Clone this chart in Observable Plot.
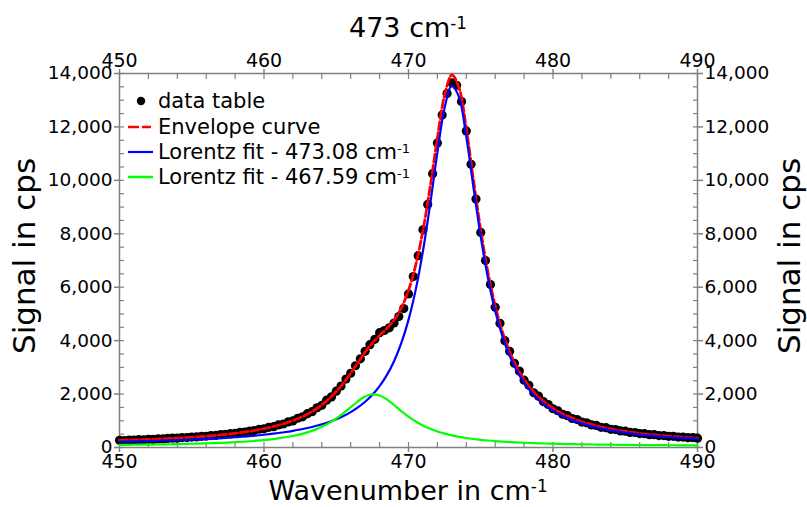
<!DOCTYPE html>
<html>
<head>
<meta charset="utf-8">
<script src="https://cdn.jsdelivr.net/npm/d3@7"></script>
<script src="https://cdn.jsdelivr.net/npm/@observablehq/plot@0.6"></script>
<style>
  html, body { margin: 0; padding: 0; background: #fff; }
  svg { display: block; }
</style>
</head>
<body>
<div id="chart"></div>
<script>
// ---------- data ----------
const titleText = "473 cm";
const xLabel = "Wavenumber in cm";
const yLabel = "Signal in cps";
const seriesNames = ["data table", "Envelope curve", "Lorentz fit - 473.08 cm", "Lorentz fit - 467.59 cm"];
const seriesColors = ["#000000", "#ff0000", "#0000ff", "#00ff00"];

const xTickLabels = [450, 460, 470, 480, 490];
const yTickLabels = [0, 2000, 4000, 6000, 8000, 10000, 12000, 14000];

// measured points (data table)
const dataX = [450.00,450.33,450.67,451.00,451.33,451.67,452.00,452.33,452.67,453.00,453.33,453.67,
  454.00,454.33,454.67,455.00,455.33,455.67,456.00,456.33,456.67,457.00,457.33,457.67,
  458.00,458.33,458.67,459.00,459.33,459.67,460.00,460.33,460.67,461.00,461.33,461.67,
  462.00,462.33,462.67,463.00,463.33,463.67,464.00,464.33,464.67,465.00,465.33,465.67,
  466.00,466.33,466.67,467.00,467.33,467.67,468.00,468.33,468.67,469.00,469.33,469.67,
  470.00,470.33,470.67,471.00,471.33,471.67,472.00,472.33,472.67,473.00,473.33,473.67,
  474.00,474.33,474.67,475.00,475.33,475.67,476.00,476.33,476.67,477.00,477.33,477.67,
  478.00,478.33,478.67,479.00,479.33,479.67,480.00,480.33,480.67,481.00,481.33,481.67,
  482.00,482.33,482.67,483.00,483.33,483.67,484.00,484.33,484.67,485.00,485.33,485.67,
  486.00,486.33,486.67,487.00,487.33,487.67,488.00,488.33,488.67,489.00,489.33,489.67,490.00];
const dataY = [270,262,281,276,292,290,305,303,322,320,338,348,
  349,370,371,391,395,418,421,447,452,481,488,519,
  527,566,576,617,632,683,698,757,780,846,879,958,
  995,1095,1148,1265,1340,1488,1578,1770,1895,2110,2300,2560,
  2780,3060,3320,3600,3850,4050,4300,4380,4480,4660,4900,5200,
  5750,6400,7180,8150,9100,10250,11400,12450,13250,13650,13560,12950,
  11850,10600,9300,8050,7000,6100,5250,4650,4000,3600,3150,2860,
  2520,2330,2050,1920,1720,1610,1450,1375,1245,1190,1085,1045,
  950,925,845,825,755,742,682,672,620,612,566,562,
  520,518,482,480,448,447,418,418,392,392,368,370,348];

// fitted curves
const curveX = [450,450.5,451,451.5,452,452.5,453,453.5,454,454.5,455,455.5,456,456.5,457,457.5,
  458,458.5,459,459.5,460,460.5,461,461.5,462,462.5,463,463.5,464,464.5,465,465.5,
  466,466.5,467,467.5,468,468.5,469,469.5,470,470.5,471,471.5,472,472.5,473,473.5,
  474,474.5,475,475.5,476,476.5,477,477.5,478,478.5,479,479.5,480,480.5,481,481.5,
  482,482.5,483,483.5,484,484.5,485,485.5,486,486.5,487,487.5,488,488.5,489,489.5,490];
const envelopeY = [264,272,281,291,301,312,325,338,352,368,385,404,425,448,473,501,
  532,568,608,654,705,765,833,913,1006,1116,1247,1404,1593,1822,2094,2417,
  2785,3180,3569,3912,4197,4460,4772,5219,5881,6831,8124,9760,11587,13189,13946,13456,
  11935,9992,8122,6547,5298,4329,3583,3003,2548,2188,1898,1663,1470,1309,1175,1062,
  965,882,810,747,693,644,601,563,530,499,472,447,425,405,386,369,353];
const lorentz1Y = [217,222,228,235,242,249,257,266,275,285,295,307,320,334,349,365,
  383,403,425,450,477,508,542,580,624,673,729,794,869,957,1059,1181,
  1326,1500,1713,1974,2299,2709,3231,3904,4777,5909,7353,9112,11038,12721,13543,13107,
  11630,9723,7884,6335,5108,4158,3428,2862,2420,2070,1790,1563,1378,1224,1096,988,
  896,817,749,690,639,593,553,518,487,458,433,410,390,371,354,338,324];
const lorentz2Y = [97,100,103,106,109,113,118,122,127,133,140,147,155,164,174,186,
  199,215,233,254,278,307,341,383,432,493,568,660,774,915,1085,1286,
  1509,1730,1906,1988,1948,1801,1591,1365,1154,972,821,698,599,518,453,399,
  355,319,288,262,240,221,205,191,178,168,158,150,142,135,129,124,
  119,115,111,107,104,101,98,95,93,91,89,87,85,84,82,81,79];

// ---------- build tables ----------
const points = dataX.map((x, i) => ({x, y: dataY[i]}));
const envelope = curveX.map((x, i) => ({x, y: envelopeY[i]}));
const fit1 = curveX.map((x, i) => ({x, y: lorentz1Y[i]}));
const fit2 = curveX.map((x, i) => ({x, y: lorentz2Y[i]}));

const xAllTicks = d3.range(450, 490.1, 2);
const yAllTicks = d3.range(0, 14000.1, 500);
const axisGray = "#808080";
const fmt = d3.format(",");
const blank = () => "";

const svg = Plot.plot({
  width: 807,
  height: 507,
  marginLeft: 119,
  marginRight: 110,
  marginTop: 73,
  marginBottom: 60,
  x: {domain: [450, 490]},
  y: {domain: [0, 14000]},
  style: {fontFamily: "DejaVu Sans", background: "#fff", color: "#000", overflow: "visible"},
  marks: [
    // outside major ticks + labels
    Plot.axisX({anchor: "bottom", ticks: xTickLabels, tickSize: 5, tickPadding: 2, fontSize: 19, stroke: axisGray, strokeWidth: 1.5, label: null}),
    Plot.axisX({anchor: "top", ticks: xTickLabels, tickSize: 5, tickPadding: 2, fontSize: 19, stroke: axisGray, strokeWidth: 1.5, label: null}),
    Plot.axisY({anchor: "left", ticks: yTickLabels, tickSize: 5, tickPadding: 2, fontSize: 18.5, tickFormat: fmt, stroke: axisGray, strokeWidth: 1.5, label: null}),
    Plot.axisY({anchor: "right", ticks: yTickLabels, tickSize: 5, tickPadding: 2, fontSize: 18.5, tickFormat: fmt, stroke: axisGray, strokeWidth: 1.5, label: null}),
    // inside ticks (majors and minors)
    Plot.axisX({anchor: "bottom", ticks: xAllTicks, tickSize: 5, dy: -5, tickFormat: blank, stroke: axisGray, strokeWidth: 1.2, label: null}),
    Plot.axisX({anchor: "top", ticks: xAllTicks, tickSize: 5, dy: 5, tickFormat: blank, stroke: axisGray, strokeWidth: 1.2, label: null}),
    Plot.axisY({anchor: "left", ticks: yAllTicks, tickSize: 5, dx: 5, tickFormat: blank, stroke: axisGray, strokeWidth: 1.2, label: null}),
    Plot.axisY({anchor: "right", ticks: yAllTicks, tickSize: 5, dx: -5, tickFormat: blank, stroke: axisGray, strokeWidth: 1.2, label: null}),
    Plot.frame({stroke: axisGray, strokeWidth: 1.5}),
    Plot.dot(points, {x: "x", y: "y", r: 4.6, fill: seriesColors[0], stroke: null}),
    Plot.line(envelope, {x: "x", y: "y", stroke: seriesColors[1], strokeWidth: 2.8, strokeDasharray: "8,3", curve: "catmull-rom"}),
    Plot.line(fit1, {x: "x", y: "y", stroke: seriesColors[2], strokeWidth: 2.2, curve: "catmull-rom"}),
    Plot.line(fit2, {x: "x", y: "y", stroke: seriesColors[3], strokeWidth: 2.2, curve: "catmull-rom"})
  ]
});

document.getElementById("chart").appendChild(svg);

// ---------- titles, axis labels, legend ----------
const s = d3.select(svg);
function supText(g, str, sup, attrs) {
  const t = g.append("text");
  Object.entries(attrs).forEach(([k, v]) => t.attr(k, v));
  t.append("tspan").text(str);
  if (sup) t.append("tspan").attr("dy", "-0.45em").attr("font-size", "0.62em").text(sup);
  return t;
}
const cx = (119 + 697) / 2;
supText(s, titleText, "-1", {x: cx, y: 37, "text-anchor": "middle", "font-size": 27, "font-family": "DejaVu Sans", fill: "#000"});
supText(s, xLabel, "-1", {x: cx, y: 500, "text-anchor": "middle", "font-size": 27, "font-family": "DejaVu Sans", fill: "#000"});
s.append("text").attr("transform", `translate(35,256) rotate(-90)`).attr("text-anchor", "middle")
  .attr("font-size", 31).attr("font-family", "DejaVu Sans").attr("fill", "#000").text(yLabel);
s.append("text").attr("transform", `translate(800,256) rotate(-90)`).attr("text-anchor", "middle")
  .attr("font-size", 31).attr("font-family", "DejaVu Sans").attr("fill", "#000").text(yLabel);

const lg = s.append("g").attr("font-family", "DejaVu Sans").attr("font-size", 21).attr("text-anchor", "start");
const rowY = [101, 127, 152, 177];
lg.append("circle").attr("cx", 141).attr("cy", rowY[0]).attr("r", 4.2).attr("fill", seriesColors[0]);
lg.append("line").attr("x1", 128).attr("x2", 151).attr("y1", rowY[1]).attr("y2", rowY[1])
  .attr("stroke", seriesColors[1]).attr("stroke-width", 2.6).attr("stroke-dasharray", "11,3");
lg.append("line").attr("x1", 128).attr("x2", 153).attr("y1", rowY[2]).attr("y2", rowY[2])
  .attr("stroke", seriesColors[2]).attr("stroke-width", 2.2);
lg.append("line").attr("x1", 128).attr("x2", 153).attr("y1", rowY[3]).attr("y2", rowY[3])
  .attr("stroke", seriesColors[3]).attr("stroke-width", 2.5);
seriesNames.forEach((name, i) => {
  supText(lg, name, i >= 2 ? "-1" : null, {x: 158, y: rowY[i] + 7, fill: "#000", "text-anchor": "start"});
});
</script>
</body>
</html>
